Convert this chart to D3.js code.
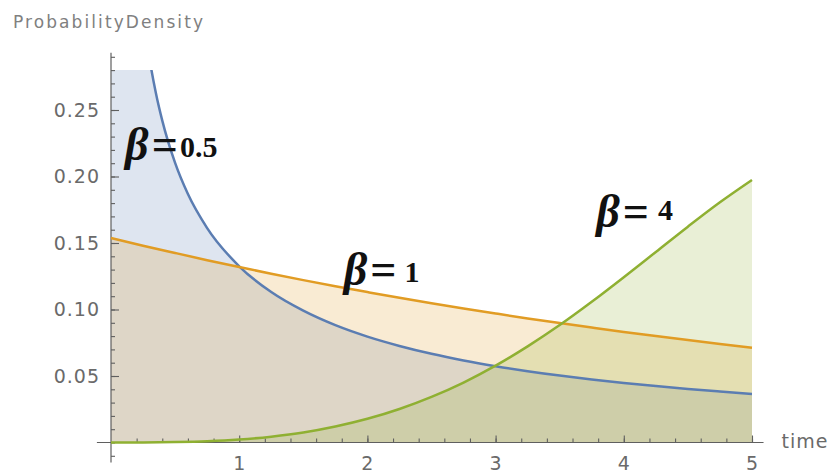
<!DOCTYPE html>
<html>
<head>
<meta charset="utf-8">
<script src="https://cdn.jsdelivr.net/npm/d3@7"></script>
<style>
  body { margin: 0; background: #fff; }
  svg { display: block; }
</style>
</head>
<body>
<div id="chart"></div>
<script>
// density values (time on x)
var timeHalf = [0, 0.2, 0.25, 0.3, 0.35, 0.4, 0.5, 0.6, 0.75, 1, 1.25, 1.5, 1.75, 2, 2.25, 2.5, 2.75, 3, 3.25, 3.5, 3.75, 4, 4.25, 4.5, 4.75, 5];
var betaHalf = [0.9, 0.368, 0.3224, 0.2888, 0.2628, 0.242, 0.2102, 0.1868, 0.1612, 0.1325, 0.1131, 0.0991, 0.0882, 0.0796, 0.0726, 0.0667, 0.0617, 0.0574, 0.0536, 0.0503, 0.0474, 0.0448, 0.0424, 0.0402, 0.0383, 0.0365];

var timeQ = [0, 0.25, 0.5, 0.75, 1, 1.25, 1.5, 1.75, 2, 2.25, 2.5, 2.75, 3, 3.25, 3.5, 3.75, 4, 4.25, 4.5, 4.75, 5];
var betaOne = [0.1538, 0.148, 0.1425, 0.1371, 0.1319, 0.1269, 0.1221, 0.1175, 0.1131, 0.1088, 0.1047, 0.1008, 0.097, 0.0933, 0.0898, 0.0864, 0.0831, 0.08, 0.077, 0.0741, 0.0713];
var betaFour = [0, 0.00004, 0.0003, 0.0009, 0.0022, 0.0044, 0.0075, 0.012, 0.0178, 0.0252, 0.0343, 0.0451, 0.0578, 0.0723, 0.0883, 0.1058, 0.1243, 0.1433, 0.1623, 0.1806, 0.1974];

var yTickLabels = ["0.05", "0.10", "0.15", "0.20", "0.25"];
var xTickLabels = ["1", "2", "3", "4", "5"];

var W = 829, H = 473;

var x = d3.scaleLinear().domain([0, 5]).range([111, 752]);
var y = d3.scaleLinear().domain([0, 0.28]).range([442.5, 70.1]);

// lab: [time, density, number dx, number dy]
var series = [
  {name: "0.5", t: timeHalf, v: betaHalf, color: "#5b7db2", lab: [0.11, 0.2124, 2, -3]},
  {name: "1",   t: timeQ,    v: betaOne,  color: "#e19c24", lab: [1.815, 0.1184, 8, -3]},
  {name: "4",   t: timeQ,    v: betaFour, color: "#8fb032", lab: [3.785, 0.162, 9, -7]}
];

var svg = d3.select("#chart").append("svg")
  .attr("width", W)
  .attr("height", H);

svg.append("clipPath").attr("id", "fillClip")
  .append("rect")
  .attr("x", x(0)).attr("y", y(0.28))
  .attr("width", x(5) - x(0)).attr("height", y(0) - y(0.28));

svg.append("clipPath").attr("id", "lineClip")
  .append("rect")
  .attr("x", x(0) - 2).attr("y", y(0.28))
  .attr("width", x(5) - x(0) + 4).attr("height", y(0) - y(0.28) + 3);

var area = d3.area()
  .x(d => x(d[0]))
  .y0(y(0))
  .y1(d => y(d[1]))
  .curve(d3.curveMonotoneX);

var line = d3.line()
  .x(d => x(d[0]))
  .y(d => y(d[1]))
  .curve(d3.curveMonotoneX);

// fillings to the axis
svg.append("g").attr("clip-path", "url(#fillClip)")
  .selectAll("path")
  .data(series)
  .enter().append("path")
  .attr("d", s => area(d3.zip(s.t, s.v)))
  .attr("fill", s => s.color)
  .attr("fill-opacity", 0.2);

// axes
var axisColor = "#5f5f5f";

// y axis: ticks point right, labels left
var yAx = svg.append("g").attr("transform", "translate(" + x(0) + ",0)");
yAx.append("g")
  .call(d3.axisRight(y).tickValues(d3.range(-1, 30).map(i => i / 100)).tickSize(4).tickFormat(""));
yAx.append("g")
  .call(d3.axisRight(y).tickValues([0.05, 0.1, 0.15, 0.2, 0.25]).tickSize(8).tickFormat(""));
yAx.append("g")
  .attr("class", "ylab")
  .call(d3.axisLeft(y).tickValues([0.05, 0.1, 0.15, 0.2, 0.25]).tickSize(0).tickPadding(11)
    .tickFormat((d, i) => yTickLabels[i]));
yAx.selectAll(".domain").remove();
yAx.append("line")
  .attr("y1", y(-0.015)).attr("y2", y(0.293))
  .attr("stroke", axisColor).attr("stroke-width", 1.2);

// x axis: ticks point up, labels below
var xAx = svg.append("g").attr("transform", "translate(0," + y(0) + ")");
xAx.append("g")
  .call(d3.axisTop(x).tickValues(d3.range(1, 26).map(i => i / 5)).tickSize(4).tickFormat(""));
xAx.append("g")
  .call(d3.axisTop(x).tickValues([1, 2, 3, 4, 5]).tickSize(7).tickFormat(""));
xAx.append("g")
  .attr("class", "xlab")
  .call(d3.axisBottom(x).tickValues([1, 2, 3, 4, 5]).tickSize(0).tickPadding(14)
    .tickFormat((d, i) => xTickLabels[i]));
xAx.selectAll(".domain").remove();
xAx.append("line")
  .attr("x1", x(-0.11)).attr("x2", x(5.09))
  .attr("stroke", axisColor).attr("stroke-width", 1.2);

svg.selectAll(".tick line").attr("stroke", axisColor).attr("stroke-width", 1.1);
svg.selectAll(".ylab text, .xlab text")
  .style("font-family", "'DejaVu Sans', sans-serif")
  .style("font-size", "19px")
  .style("letter-spacing", "1px")
  .attr("fill", "#6a6a6a");

// curves
svg.append("g").attr("clip-path", "url(#lineClip)")
  .selectAll("path")
  .data(series)
  .enter().append("path")
  .attr("d", s => line(d3.zip(s.t, s.v)))
  .attr("fill", "none")
  .attr("stroke", s => s.color)
  .attr("stroke-width", 2.5);

// axis titles
svg.append("text")
  .attr("x", 13).attr("y", 28)
  .attr("textLength", 190).attr("lengthAdjust", "spacing")
  .style("font-family", "'DejaVu Sans', sans-serif")
  .style("font-size", "17px")
  .attr("fill", "#808080")
  .text("ProbabilityDensity");

svg.append("text")
  .attr("x", x(5.23)).attr("y", y(0) + 5.5)
  .style("font-family", "'DejaVu Sans', sans-serif")
  .style("font-size", "19px")
  .style("letter-spacing", "1px")
  .attr("fill", "#6a6a6a")
  .text("time");

// beta labels
var lab = svg.selectAll(".blab")
  .data(series)
  .enter().append("text")
  .attr("class", "blab")
  .attr("x", s => x(s.lab[0]))
  .attr("y", s => y(s.lab[1]))
  .style("font-family", "'Liberation Serif', 'Times New Roman', serif")
  .style("font-weight", "bold")
  .attr("fill", "#111");
lab.append("tspan").style("font-size", "46px").style("font-style", "italic").text("β");
lab.append("tspan").style("font-size", "46px").attr("dx", 3).text("=");
lab.append("tspan").style("font-size", "30px").attr("dx", s => s.lab[2]).attr("dy", s => s.lab[3]).text(s => s.name);
</script>
</body>
</html>
